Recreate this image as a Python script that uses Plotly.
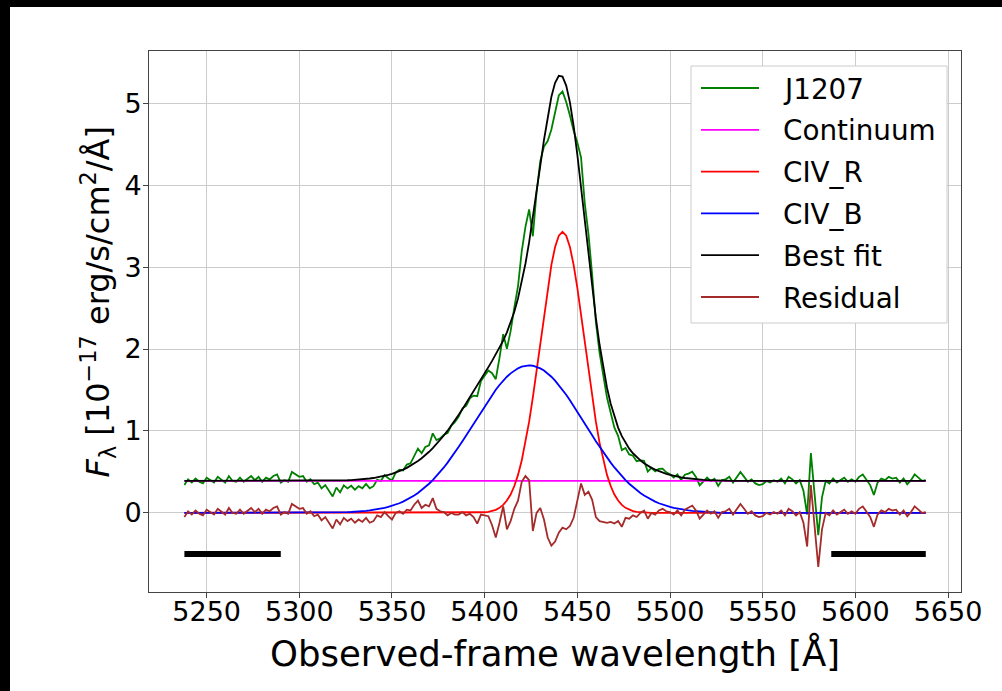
import numpy as np
import plotly.graph_objects as go

# ---------------- data ----------------
wave_start, wave_step, n_pix = 5238, 2, 201
wave = wave_start + wave_step * np.arange(n_pix)

continuum_level = 0.39

civ_r_start = 5398
civ_r = [0.004, 0.008, 0.013, 0.023, 0.038, 0.062, 0.098, 0.151, 0.225, 0.328,
         0.464, 0.639, 0.855, 1.114, 1.410, 1.737, 2.080, 2.424, 2.746, 3.027,
         3.244, 3.383, 3.430, 3.383, 3.244, 3.027, 2.746, 2.424, 2.080, 1.737,
         1.410, 1.114, 0.855, 0.639, 0.464, 0.328, 0.225, 0.151, 0.098, 0.062,
         0.038, 0.023, 0.013, 0.008, 0.004]

civ_b_start = 5324
civ_b = [0.007, 0.009, 0.011, 0.013, 0.016, 0.020, 0.024, 0.030, 0.036, 0.043,
         0.051, 0.061, 0.073, 0.086, 0.101, 0.118, 0.138, 0.160, 0.185, 0.213,
         0.244, 0.278, 0.315, 0.356, 0.401, 0.449, 0.500, 0.555, 0.614, 0.675,
         0.740, 0.807, 0.876, 0.947, 1.019, 1.092, 1.164, 1.236, 1.307, 1.376,
         1.442, 1.504, 1.561, 1.614, 1.662, 1.703, 1.737, 1.764, 1.784, 1.796,
         1.800,
         1.796, 1.784, 1.764, 1.737, 1.703, 1.662, 1.614, 1.561, 1.504, 1.442,
         1.376, 1.307, 1.236, 1.164, 1.092, 1.019, 0.947, 0.876, 0.807, 0.740,
         0.675, 0.614, 0.555, 0.500, 0.449, 0.401, 0.356, 0.315, 0.278, 0.244,
         0.213, 0.185, 0.160, 0.138, 0.118, 0.101, 0.086, 0.073, 0.061, 0.051,
         0.043, 0.036, 0.030, 0.024, 0.020, 0.016, 0.013, 0.011, 0.009, 0.007]

residual = [
    -0.05, 0.02, -0.02, 0.03, -0.01, -0.03, 0.04, 0.01, -0.02, 0.05,
    0.02, -0.02, 0.06, 0.00, -0.01, 0.04, -0.01, 0.03, 0.06, 0.01,
    0.05, -0.01, 0.04, 0.02, 0.06, 0.08, -0.02, 0.01, -0.01, 0.11,
    0.08, 0.05, 0.06, -0.01, 0.02, -0.04, -0.02, -0.09, -0.05, -0.12,
    -0.19, -0.08, -0.14, -0.06, -0.10, -0.07, -0.12, -0.08, -0.11, -0.06,
    -0.12, -0.10, -0.03, -0.05, 0.01, -0.04, -0.08, 0.00, 0.02, -0.01,
    0.04, 0.03, 0.10, 0.15, 0.06, 0.10, 0.08, 0.18, 0.05, 0.02,
    0.01, -0.03, 0.00, -0.02, -0.02, 0.01, -0.03, -0.01, -0.05, -0.13,
    -0.02, -0.03, -0.04, -0.15, -0.30, -0.12, 0.08, -0.20, -0.10, 0.05,
    0.15, 0.38, 0.45, 0.40, -0.22, 0.00, 0.06, -0.08, -0.30, -0.40,
    -0.35, -0.24, -0.18, -0.20, -0.16, -0.06, 0.15, 0.36, 0.22, 0.26,
    0.16, -0.05, -0.10, -0.11, -0.12, -0.11, -0.13, -0.10, -0.17, -0.06,
    -0.07, -0.03, -0.05, 0.00, 0.03, -0.07, 0.00, -0.02, 0.03, 0.05,
    0.02, 0.01, -0.02, 0.03, -0.03, 0.04, 0.06, 0.09, 0.03, -0.07,
    -0.02, 0.03, -0.01, 0.02, -0.06, 0.01, 0.02, 0.05, -0.02, 0.04,
    0.11, 0.05, -0.01, 0.02, -0.03, -0.05, -0.04, 0.00, -0.02, 0.01,
    -0.01, 0.03, -0.03, 0.05, 0.02, -0.03, 0.01, -0.12, -0.41, 0.34,
    -0.15, -0.66, -0.20, 0.00, -0.03, 0.03, -0.02, 0.01, 0.04, -0.01,
    0.02, -0.01, 0.05, 0.08, 0.02, -0.05, -0.17, -0.02, 0.03, 0.01,
    0.05, 0.03, 0.04, -0.02, 0.03, -0.04, 0.01, 0.08, 0.04, 0.00,
    0.01]

window_start = [5238, 5587]
window_end = [5290, 5638]
window_level = -0.5

x_ticks = [5250, 5300, 5350, 5400, 5450, 5500, 5550, 5600, 5650]
y_ticks = [0, 1, 2, 3, 4, 5]
x_range = [5218.9, 5657.0]
y_range = [-0.965, 5.637]

# ---------------- build model arrays ----------------
def place(start, vals):
    arr = np.zeros(n_pix)
    i0 = (start - wave_start) // wave_step
    arr[i0:i0 + len(vals)] = vals
    return arr

cont_arr = np.full(n_pix, continuum_level)
civ_r_arr = place(civ_r_start, civ_r)
civ_b_arr = place(civ_b_start, civ_b)
best_fit = cont_arr + civ_r_arr + civ_b_arr
resid_arr = np.array(residual)
flux = best_fit + resid_arr

FONT = "DejaVu Sans"
W, H = 1002, 691
L, R, T, B = 149, 41, 51, 99
PW, PH = W - L - R, H - T - B
LW = 1.8

def px(xp):
    return (xp - L) / PW

def py(yp):
    return (H - B - yp) / PH

fig = go.Figure()

# fitting windows (black bars)
for s, e in zip(window_start, window_end):
    fig.add_trace(go.Scatter(x=[s, e], y=[window_level, window_level], mode="lines",
                             line=dict(color="black", width=6), showlegend=False,
                             hoverinfo="skip"))

series = [
    ("J1207", flux, "#008000"),
    ("Continuum", cont_arr, "#ff00ff"),
    ("CIV_R", civ_r_arr, "#ff0000"),
    ("CIV_B", civ_b_arr, "#0000ff"),
    ("Best fit", best_fit, "#000000"),
    ("Residual", resid_arr, "#a52a2a"),
]
for name, y, c in series:
    fig.add_trace(go.Scatter(x=wave, y=y, mode="lines", name=name,
                             line=dict(color=c, width=LW), showlegend=False))

axis_common = dict(showgrid=True, gridcolor="#cccccc", gridwidth=1,
                   showline=True, linecolor="#444444", linewidth=1, mirror=True,
                   ticks="outside", ticklen=5, tickcolor="#444444", zeroline=False,
                   tickfont=dict(family=FONT, size=27, color="black"))

fig.update_xaxes(range=x_range, tickvals=x_ticks, ticklabelstandoff=-9, **axis_common)
fig.update_yaxes(range=y_range, tickvals=y_ticks, ticklabelstandoff=-4, **axis_common)

# ---- legend drawn as shapes + text (matplotlib-like layout) ----
leg_x0, leg_x1, leg_y0, leg_y1 = 691, 947, 66, 323
row0, row_step = 88, 41.8
shapes = [dict(type="rect", xref="paper", yref="paper",
               x0=px(leg_x0), x1=px(leg_x1), y0=py(leg_y1), y1=py(leg_y0),
               fillcolor="white", line=dict(color="#cccccc", width=1), layer="above")]
annotations = []
for k, (name, _, c) in enumerate(series):
    yc = row0 + k * row_step
    shapes.append(dict(type="line", xref="paper", yref="paper",
                       x0=px(701), x1=px(759), y0=py(yc), y1=py(yc),
                       line=dict(color=c, width=LW), layer="above"))
    annotations.append(dict(text=name, xref="paper", yref="paper", x=px(781), y=py(yc + 1),
                            xanchor="left", yanchor="middle", showarrow=False,
                            font=dict(family=FONT, size=27.8, color="black")))

# black frame bands of the original picture
shapes += [
    dict(type="rect", xref="paper", yref="paper", x0=px(0), x1=px(10),
         y0=py(H), y1=py(0), fillcolor="black", line=dict(width=0), layer="above"),
    dict(type="rect", xref="paper", yref="paper", x0=px(0), x1=px(W),
         y0=py(7), y1=py(0), fillcolor="black", line=dict(width=0), layer="above"),
]

annotations += [
    dict(text="Observed-frame wavelength [Å]", xref="paper", yref="paper",
         x=px(555), y=py(653), xanchor="center", yanchor="middle",
         showarrow=False, font=dict(family=FONT, size=35.5, color="black")),
    dict(text="<i>F</i><sub>λ</sub> [10<sup>−17</sup> erg/s/cm<sup>2</sup>/Å]",
         xref="paper", yref="paper", textangle=-90,
         x=px(97.5), y=py(302), xanchor="center", yanchor="middle",
         showarrow=False, font=dict(family=FONT, size=32, color="black")),
]

fig.update_layout(
    width=W, height=H,
    margin=dict(l=L, r=R, t=T, b=B),
    paper_bgcolor="white", plot_bgcolor="white",
    showlegend=False,
    annotations=annotations,
    shapes=shapes,
)

fig.write_html("out.html")
